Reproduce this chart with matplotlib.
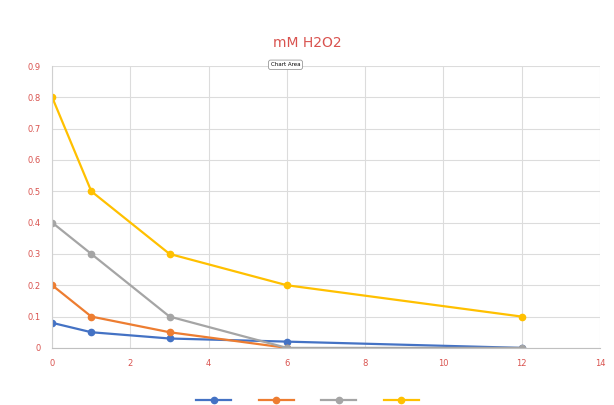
import matplotlib.pyplot as plt

hours = [0, 1, 3, 6, 12]
series1 = [0.08, 0.05, 0.03, 0.02, 0.0]
series2_x = [0, 1, 3, 6]
series2 = [0.2, 0.1, 0.05, 0.0]
series3 = [0.4, 0.3, 0.1, 0.0, 0.0]
series4 = [0.8, 0.5, 0.3, 0.2, 0.1]

red = "#d9534f"

fig = plt.figure(figsize=(6.14, 4.05), dpi=100)
ax = fig.add_axes([0.085, 0.141, 0.892, 0.696])

l1, = ax.plot(hours, series1, color="#4472C4", marker="o", markersize=4.5, linewidth=1.6)
l2, = ax.plot(series2_x, series2, color="#ED7D31", marker="o", markersize=4.5, linewidth=1.6)
l3, = ax.plot(hours, series3, color="#A5A5A5", marker="o", markersize=4.5, linewidth=1.6)
l4, = ax.plot(hours, series4, color="#FFC000", marker="o", markersize=4.5, linewidth=1.6)

ax.set_xlim(0, 14)
ax.set_ylim(0, 0.9)
ax.set_xticks(range(0, 15, 2))
ax.set_yticks([i / 10 for i in range(10)])
ax.set_yticklabels(["0"] + [f"{i / 10:.1f}" for i in range(1, 10)])
ax.tick_params(colors=red, labelsize=6, length=0, pad=8)
ax.grid(True, color="#dcdcdc", linewidth=0.8)
for side in ["top", "right"]:
    ax.spines[side].set_visible(False)
ax.spines["left"].set_color("#d0d0d0")
ax.spines["bottom"].set_color("#c0c0c0")
ax.set_axisbelow(True)

fig.text(0.5, 0.893, "mM H2O2", ha="center", va="center", color=red, fontsize=10)
fig.text(0.465, 0.84, "Chart Area", ha="center", va="center", fontsize=4,
         bbox=dict(boxstyle="round,pad=0.4", fc="white", ec="#999999", lw=0.6))

fig.legend([l1, l2, l3, l4], ["", "", "", ""], loc="center", bbox_to_anchor=(0.51, 0.01),
           ncol=4, frameon=False, handlelength=2.5, columnspacing=1.2)

fig.savefig("out.png", dpi=100)
